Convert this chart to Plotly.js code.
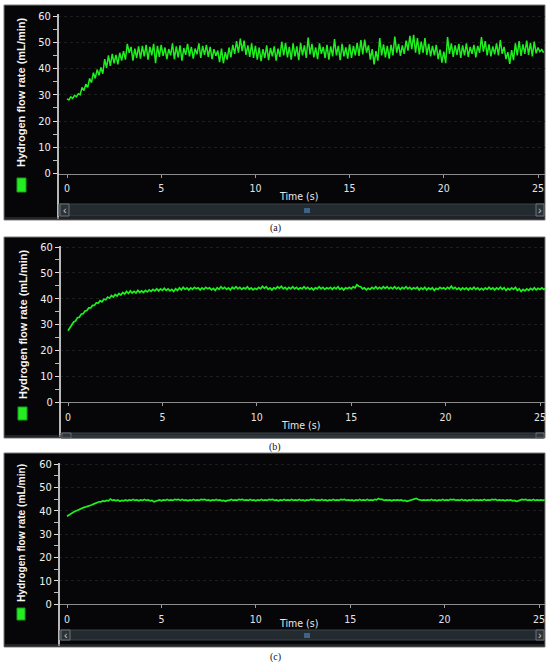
<!DOCTYPE html>
<html>
<head>
<meta charset="utf-8">
<script src="https://cdn.plot.ly/plotly-3.0.1.min.js"></script>
<style>
html,body{margin:0;padding:0;background:#fff;}
#chart{width:550px;height:665px;}
</style>
</head>
<body>
<div id="chart"></div>
<script>
// ---------------- DATA (sampled every 0.1 s, starting at t = 0 s) ----------------
const panelLabels = ["(a)", "(b)", "(c)"];
const yTitle = "Hydrogen flow rate (mL/min)";
const xTitle = "Time (s)";
const xTickVals = [0, 5, 10, 15, 20, 25];
const yTickVals = [0, 10, 20, 30, 40, 50, 60];
const sampleStart = 0;
const sampleStep = 0.1;

const flowA = [
 28.4,28.0,29.2,28.6,29.8,29.2,30.4,30.0,32.8,31.6,
 34.0,32.8,36.2,34.6,38.4,36.2,39.6,37.4,40.4,38.0,
 43.6,40.2,45.0,41.0,45.6,42.0,45.2,41.6,46.0,43.0,
 46.6,43.4,49.4,46.0,48.2,43.0,47.6,44.0,48.4,43.8,
 48.6,44.6,49.0,43.4,48.2,45.0,49.4,42.0,48.6,44.4,
 49.0,44.8,48.0,43.6,47.4,45.0,49.6,43.6,48.4,44.2,
 48.8,43.0,47.8,45.2,49.4,44.6,48.2,43.8,47.6,45.4,
 49.6,44.0,48.6,45.2,49.0,44.4,48.2,43.6,47.4,44.8,
 46.8,42.4,47.6,42.0,46.2,43.4,48.0,44.2,49.0,45.6,
 50.4,46.0,51.4,46.6,50.6,45.2,48.8,44.4,49.6,44.0,
 48.6,43.4,48.0,42.8,47.4,44.0,48.8,43.2,47.8,44.6,
 48.4,43.0,47.6,44.4,50.2,45.0,49.8,44.2,48.2,43.4,
 49.6,44.6,48.4,43.2,49.8,45.0,48.8,44.0,51.8,45.4,
 49.4,44.2,48.0,43.6,49.6,45.6,48.2,44.0,49.0,43.4,
 48.4,44.6,51.2,45.0,48.6,43.2,49.4,44.6,48.0,43.8,
 49.2,44.0,48.6,45.0,49.8,44.8,50.8,45.4,51.0,46.0,
 48.8,43.4,47.4,41.6,46.6,43.0,51.6,45.0,49.2,44.2,
 48.6,43.8,49.0,45.0,52.2,46.0,49.4,44.8,48.8,45.6,
 50.6,46.8,52.4,47.4,52.8,46.0,51.6,45.4,50.2,46.0,
 51.6,45.2,49.4,44.6,48.6,45.0,49.0,43.6,47.2,42.2,
 46.4,42.0,52.0,45.6,49.6,44.4,48.8,45.2,49.4,44.0,
 48.8,45.0,49.6,44.4,48.2,45.6,49.0,44.2,48.6,46.0,
 52.0,46.4,50.4,45.0,49.2,44.6,48.4,45.4,49.6,45.0,
 50.8,45.6,48.2,43.6,46.2,41.8,47.0,43.2,49.6,45.0,
 50.4,44.8,49.2,45.6,50.6,45.2,49.8,44.6,50.2,45.8,
 48.0,46.4,47.2,46.0
];

const flowB = [
 27.6,28.8,29.6,31.0,31.4,32.6,32.8,34.0,34.2,35.2,
 35.4,36.4,36.4,37.4,37.4,38.4,38.2,39.2,38.8,39.8,
 39.6,40.6,40.2,41.2,40.6,41.6,41.0,42.0,41.4,42.4,
 41.8,42.8,42.0,43.0,42.2,42.8,42.2,43.2,42.4,43.0,
 42.4,43.2,42.6,43.4,42.8,43.6,43.0,43.8,43.0,43.8,
 43.2,44.0,43.2,43.8,43.0,43.6,42.8,43.8,43.2,44.2,
 43.4,44.4,43.6,44.2,43.4,44.2,43.6,44.4,43.8,44.2,
 43.4,44.2,43.6,44.4,43.8,44.2,43.4,44.0,43.2,44.2,
 43.6,44.6,43.8,44.4,43.6,44.2,43.4,44.4,43.8,44.6,
 43.8,44.4,43.6,44.2,43.8,44.6,43.6,44.2,43.4,44.0,
 43.6,44.4,43.8,44.8,44.0,44.6,43.6,44.2,43.4,44.2,
 43.8,44.6,44.0,44.8,43.8,44.4,43.6,44.4,43.8,44.6,
 43.8,44.4,43.6,44.2,43.8,44.6,43.8,44.4,43.6,44.2,
 43.4,44.2,43.8,44.6,43.8,44.4,43.6,44.2,43.8,44.4,
 43.6,44.4,43.8,44.6,43.6,44.2,43.4,44.2,43.8,44.4,
 43.8,44.6,44.2,45.4,44.8,44.6,43.8,44.2,43.4,44.0,
 43.6,44.4,43.8,44.6,43.8,44.4,43.8,44.6,44.0,44.6,
 43.8,44.4,43.8,44.6,43.8,44.4,43.6,44.4,43.8,44.6,
 43.8,44.4,43.6,44.2,43.8,44.4,43.4,44.2,43.6,44.4,
 43.4,44.2,43.6,44.2,43.2,44.0,43.6,44.4,43.8,44.2,
 43.6,44.4,43.8,44.8,43.8,44.4,43.6,44.2,43.4,44.2,
 43.6,44.2,43.4,44.2,43.6,44.4,43.6,44.2,43.4,44.0,
 43.4,44.2,43.6,44.4,43.6,44.2,43.4,44.2,43.6,44.4,
 43.6,44.2,43.2,44.0,43.4,44.2,43.6,44.4,43.2,43.8,
 42.8,43.6,43.0,43.8,43.2,44.0,43.4,44.2,43.4,44.0,
 43.6,44.2,43.6,44.0
];

const flowC = [
 37.6,38.2,38.6,39.2,39.6,40.0,40.4,40.8,41.0,41.4,
 41.6,41.8,42.2,42.4,42.8,43.2,43.4,43.8,43.8,44.2,
 44.0,44.4,44.2,45.0,44.4,44.6,44.2,44.6,44.0,44.4,
 44.2,44.6,44.2,44.6,44.4,44.8,44.4,44.6,44.2,44.6,
 44.4,44.8,44.4,44.6,44.2,44.4,43.8,44.0,44.2,44.6,
 44.2,44.6,44.4,44.8,44.4,44.6,44.4,44.8,44.6,44.8,
 44.4,44.8,44.4,44.6,44.2,44.6,44.4,44.8,44.4,44.6,
 44.4,44.8,44.6,44.8,44.4,44.6,44.2,44.6,44.4,44.8,
 44.4,44.6,44.2,44.4,44.0,44.4,44.4,44.8,44.4,44.6,
 44.4,44.8,44.6,44.8,44.4,44.6,44.4,44.8,44.4,44.6,
 44.2,44.6,44.4,44.8,44.4,44.6,44.4,44.8,44.6,44.8,
 44.4,44.6,44.2,44.6,44.4,44.8,44.4,44.6,44.4,44.8,
 44.4,44.6,44.4,44.8,44.4,44.6,44.2,44.6,44.4,44.8,
 44.6,44.8,44.4,44.6,44.4,44.8,44.4,44.6,44.2,44.6,
 44.4,44.8,44.4,44.6,44.4,44.8,44.6,44.8,44.4,44.6,
 44.4,44.6,44.2,44.6,44.4,44.8,44.4,44.6,44.4,44.8,
 44.4,44.6,44.4,44.8,44.6,45.2,44.8,44.8,44.4,44.6,
 44.4,44.6,44.2,44.6,44.4,44.6,44.4,44.6,44.2,44.4,
 44.0,44.2,44.4,44.8,44.8,45.2,44.8,44.6,44.4,44.6,
 44.4,44.6,44.4,44.8,44.4,44.6,44.2,44.6,44.4,44.8,
 44.4,44.6,44.4,44.8,44.6,44.8,44.4,44.6,44.4,44.8,
 44.4,44.6,44.2,44.6,44.4,44.8,44.4,44.6,44.4,44.6,
 44.4,44.8,44.4,44.6,44.4,44.8,44.6,44.8,44.4,44.6,
 44.4,44.6,44.2,44.6,44.4,44.6,44.2,44.4,44.0,44.2,
 44.4,44.8,44.6,44.8,44.4,44.6,44.4,44.8,44.4,44.6,
 44.4,44.6,44.4,44.6
];

const series = [flowA, flowB, flowC];

// ---------------- LAYOUT GEOMETRY (pixels in the 550x665 page) ----------------
const W = 550, H = 665;
const px = v => v / W;
const py = v => 1 - v / H;

const panels = [
  {box:[4,5,545,220], axisX:58, lineTop:14, plotTop:10, y0:173.5, y60:16, x0:67, x25:538,
   timeX:298, timeY:196, scroll:[204,216], legend:[17,178,26,192], titleX:21, titleY:93,
   titleSize:11, labelY:228, lw:1.5},
  {box:[4,237,545,438], axisX:60, lineTop:246, plotTop:239, y0:402, y60:247, x0:68, x25:540,
   timeX:300, timeY:425, scroll:[433,438], legend:[18,407,27,420], titleX:23, titleY:325,
   titleSize:11, labelY:447, lw:1.7},
  {box:[4,453,545,647], axisX:59, lineTop:463, plotTop:455, y0:604, y60:464, x0:67, x25:539,
   timeX:298, timeY:623, scroll:[630,640], legend:[17,608,25,620], titleX:21, titleY:533,
   titleSize:10.2, labelY:657, lw:1.7}
];

const narrow = "DejaVu Sans Condensed, Liberation Sans Narrow, Arial Narrow, Liberation Sans, Arial, sans-serif";
const sans = "Liberation Sans, Arial, sans-serif";
const serif = "Liberation Serif, Times New Roman, serif";
const green = "#1ef01e";
const panelBg = "#060608";

const data = [];
const layout = {
  width: W, height: H,
  margin: {l:0, r:0, t:0, b:0, pad:0},
  paper_bgcolor: "#ffffff",
  plot_bgcolor: "rgba(0,0,0,0)",
  showlegend: false,
  shapes: [],
  annotations: []
};

panels.forEach((p, i) => {
  const n = i === 0 ? "" : String(i + 1);
  const xa = "x" + n, ya = "y" + n;
  const sx = (p.x25 - p.x0) / 25;           // px per second
  const sy = (p.y0 - p.y60) / 60;           // px per mL/min
  const right = p.box[2];

  data.push({
    type: "scatter", mode: "lines",
    x0: sampleStart, dx: sampleStep, y: series[i],
    xaxis: xa, yaxis: ya,
    line: {color: green, width: p.lw},
    hoverinfo: "skip"
  });

  layout["xaxis" + n] = {
    domain: [px(p.axisX), px(right)],
    range: [-(p.x0 - p.axisX) / sx, (right - p.x0) / sx],
    anchor: ya,
    tickmode: "array", tickvals: xTickVals,
    ticks: "outside", ticklen: 3, tickcolor: "#9a9a9a", tickwidth: 1,
    ticklabelstandoff: 2,
    showline: true, linecolor: "#8c8c8c", linewidth: 1,
    showgrid: false, zeroline: false,
    tickfont: {family: narrow, size: 10.5, color: "#e4e4e4"},
    fixedrange: true
  };
  layout["yaxis" + n] = {
    domain: [py(p.y0), py(p.plotTop)],
    range: [0, (p.y0 - p.plotTop) / sy],
    anchor: xa,
    tickmode: "array", tickvals: yTickVals,
    ticks: "outside", ticklen: 4, tickcolor: "#e0e0e0", tickwidth: 1,
    minor: {dtick: 5, tick0: 0, ticks: "outside", ticklen: 4, tickcolor: "#bdbdbd", showgrid: false},
    showline: false, zeroline: false,
    showgrid: true, gridcolor: "#1d1d1d", griddash: "dot", gridwidth: 1,
    tickfont: {family: narrow, size: 11, color: "#f0f0f0"},
    fixedrange: true
  };

  // dark panel background
  layout.shapes.push({type:"rect", xref:"paper", yref:"paper", layer:"below",
    x0:px(p.box[0]), x1:px(p.box[2]), y0:py(p.box[3]), y1:py(p.box[1]),
    fillcolor: panelBg, line:{color:"#7a7a7a", width:1}});
  // white vertical axis line (extends down to panel bottom)
  layout.shapes.push({type:"line", xref:"paper", yref:"paper", layer:"above",
    x0:px(p.axisX), x1:px(p.axisX), y0:py(p.lineTop), y1:py(p.box[3]-1),
    line:{color:"#f4f4f4", width:1.5}});
  // scrollbar
  layout.shapes.push({type:"rect", xref:"paper", yref:"paper", layer:"above",
    x0:px(p.axisX + 1), x1:px(right - 1), y0:py(p.scroll[1]), y1:py(p.scroll[0]),
    fillcolor:"#242b30", line:{color:"#3a4248", width:1}});
  layout.shapes.push({type:"rect", xref:"paper", yref:"paper", layer:"above",
    x0:px(p.axisX + 2), x1:px(p.axisX + 11), y0:py(p.scroll[1]), y1:py(p.scroll[0]),
    fillcolor:"#2c3338", line:{color:"#6a7278", width:1}});
  layout.shapes.push({type:"rect", xref:"paper", yref:"paper", layer:"above",
    x0:px(right - 9), x1:px(right - 1), y0:py(p.scroll[1]), y1:py(p.scroll[0]),
    fillcolor:"#2c3338", line:{color:"#6a7278", width:1}});
  // dark strip under the scrollbar
  layout.shapes.push({type:"line", xref:"paper", yref:"paper", layer:"above",
    x0:px(p.box[0] + 1), x1:px(right - 1), y0:py(p.box[3] - 2), y1:py(p.box[3] - 2),
    line:{color:"#3c4044", width:1}});
  // legend colour swatch
  layout.shapes.push({type:"rect", xref:"paper", yref:"paper", layer:"above",
    x0:px(p.legend[0]), x1:px(p.legend[2]), y0:py(p.legend[3]), y1:py(p.legend[1]),
    fillcolor:"#22ee22", line:{color:"#18a018", width:1}});

  // y title
  layout.annotations.push({xref:"paper", yref:"paper", x:px(p.titleX), y:py(p.titleY),
    text: "<b>" + yTitle + "</b>", textangle:-90, showarrow:false, xanchor:"center", yanchor:"middle",
    font:{family: sans, size:p.titleSize, color:"#f4f4f4"}});
  // x title
  layout.annotations.push({xref:"paper", yref:"paper", x:px(p.timeX), y:py(p.timeY),
    text: xTitle, showarrow:false, xanchor:"center", yanchor:"middle",
    font:{family: narrow, size:10.5, color:"#e8e8e8"}});
  // scrollbar glyphs
  const sc = (p.scroll[0] + p.scroll[1]) / 2;
  if (p.scroll[1] - p.scroll[0] > 8) {
    layout.annotations.push({xref:"paper", yref:"paper", x:px(p.axisX + 6.5), y:py(sc),
      text:"‹", showarrow:false, xanchor:"center", yanchor:"middle",
      font:{family: sans, size:11, color:"#c8c8c8"}});
    layout.annotations.push({xref:"paper", yref:"paper", x:px(right - 5), y:py(sc),
      text:"›", showarrow:false, xanchor:"center", yanchor:"middle",
      font:{family: sans, size:11, color:"#c8c8c8"}});
    layout.annotations.push({xref:"paper", yref:"paper", x:px(p.x0 + 240), y:py(sc),
      text:"III", showarrow:false, xanchor:"center", yanchor:"middle",
      font:{family: sans, size:7, color:"#b8b8b8"}});
  }
  // panel caption
  layout.annotations.push({xref:"paper", yref:"paper", x:px(275), y:py(p.labelY),
    text: panelLabels[i], showarrow:false, xanchor:"center", yanchor:"middle",
    font:{family: serif, size:10, color:"#111111"}});
});

Plotly.newPlot("chart", data, layout, {displayModeBar:false, staticPlot:true});
</script>
</body>
</html>
